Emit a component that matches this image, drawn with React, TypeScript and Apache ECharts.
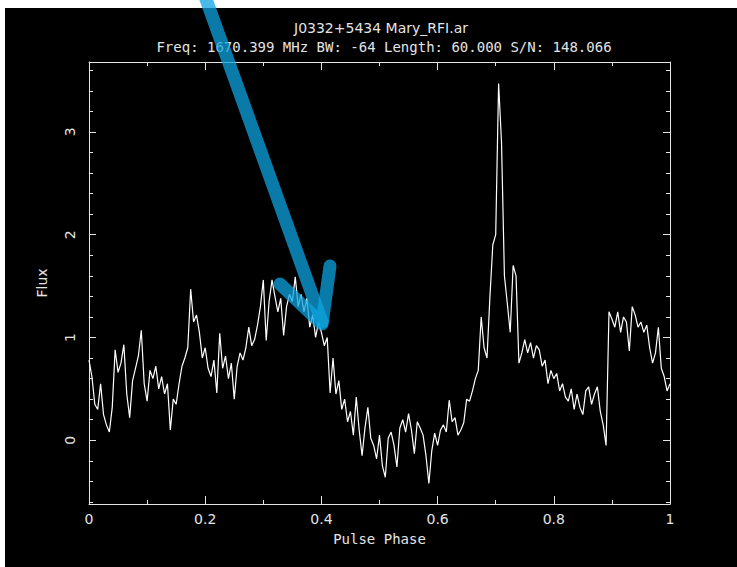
import React, { useEffect, useRef } from "react";
import * as echarts from "echarts";

const TITLE_LINE_1 = "J0332+5434 Mary_RFI.ar";
const TITLE_LINE_2 = "Freq: 1670.399 MHz BW: -64 Length: 60.000 S/N: 148.066";
const X_NAME = "Pulse Phase";
const Y_NAME = "Flux";

const X_MAJOR = [0, 0.2, 0.4, 0.6, 0.8, 1];
const X_MINOR = [0.1, 0.3, 0.5, 0.7, 0.9];
const Y_MAJOR = [0, 1, 2, 3];
const Y_MINOR = [-0.6, -0.4, -0.2, 0.2, 0.4, 0.6, 0.8, 1.2, 1.4, 1.6, 1.8, 2.2, 2.4, 2.6, 2.8, 3.2, 3.4, 3.6];
const Y_MIN = -0.62;
const Y_MAX = 3.68;

// Flux per phase bin (201 bins from phase 0 to 1)
const FLUX = [
  0.78, 0.62, 0.35, 0.30, 0.55, 0.25, 0.15, 0.08, 0.32, 0.88,
  0.66, 0.75, 0.93, 0.45, 0.22, 0.58, 0.70, 0.82, 1.07, 0.55,
  0.38, 0.68, 0.60, 0.72, 0.50, 0.62, 0.45, 0.55, 0.10, 0.40,
  0.35, 0.55, 0.72, 0.80, 0.90, 1.47, 1.15, 1.22, 1.05, 0.80,
  0.90, 0.70, 0.62, 0.78, 0.46, 1.04, 0.70, 0.82, 0.60, 0.75,
  0.40, 0.72, 0.85, 0.78, 0.90, 1.10, 0.92, 0.98, 1.12, 1.30,
  1.56, 0.97, 1.35, 1.56, 1.40, 1.25, 1.38, 1.02, 1.30, 1.42,
  1.35, 1.59, 1.30, 1.42, 1.25, 1.38, 1.10, 1.22, 1.00, 1.15,
  1.05, 0.92, 1.00, 0.46, 0.80, 0.45, 0.58, 0.30, 0.40, 0.18,
  0.28, 0.05, 0.42, 0.10, -0.15, 0.12, 0.32, 0.02, -0.05, -0.18,
  0.05, -0.25, -0.36, 0.02, 0.08, -0.05, -0.26, 0.12, 0.20, 0.08,
  0.26, 0.10, -0.13, 0.18, 0.12, 0.05, -0.15, -0.42, -0.10, 0.07,
  -0.05, 0.10, 0.15, 0.08, 0.39, 0.18, 0.22, 0.05, 0.10, 0.17,
  0.40, 0.38, 0.48, 0.60, 0.68, 1.20, 0.90, 0.80, 1.39, 1.90,
  2.00, 3.47, 2.90, 1.60, 1.33, 1.05, 1.70, 1.60, 0.75, 0.85,
  0.98, 0.85, 0.95, 0.80, 0.92, 0.88, 0.72, 0.78, 0.55, 0.68,
  0.60, 0.65, 0.48, 0.55, 0.42, 0.38, 0.50, 0.30, 0.45, 0.32,
  0.25, 0.48, 0.52, 0.35, 0.45, 0.52, 0.28, 0.15, -0.05, 1.25,
  1.18, 1.10, 1.25, 1.05, 1.20, 1.15, 0.87, 1.30, 1.22, 1.10,
  1.15, 1.05, 1.12, 0.90, 0.75, 0.85, 1.10, 0.70, 0.62, 0.48,
  0.55,
];

const FG = "#e4e4e4";
const SANS = "DejaVu Sans";
const MONO = "DejaVu Sans Mono";

export default function App() {
  const ref = useRef<HTMLDivElement>(null);

  useEffect(() => {
    if (!ref.current) return;
    const chart = echarts.init(ref.current, null, { renderer: "svg" });
    const data = FLUX.map((v, i) => [i / (FLUX.length - 1), v]);
    const gridPos = { left: 89, top: 62, right: 67, bottom: 63 };
    const lineStyle = { color: FG, width: 1 };
    const sans = { color: FG, fontSize: 14, fontWeight: "normal", fontFamily: SANS };
    const mono = { color: FG, fontSize: 14, fontWeight: "normal", fontFamily: MONO };

    chart.setOption({
      animation: false,
      backgroundColor: "#000",
      textStyle: { fontFamily: SANS },
      title: [
        { text: TITLE_LINE_1, left: 381, top: 21, padding: 0, textAlign: "center", textStyle: sans },
        { text: TITLE_LINE_2, left: 384, top: 40, padding: 0, textAlign: "center", textStyle: mono },
      ],
      grid: [
        { ...gridPos, containLabel: false },
        { ...gridPos, containLabel: false },
      ],
      xAxis: [
        {
          type: "value",
          gridIndex: 0,
          position: "bottom",
          min: 0,
          max: 1,
          interval: 0.2,
          name: X_NAME,
          nameLocation: "middle",
          nameGap: 28,
          nameTextStyle: mono,
          axisLine: { show: true, onZero: false, lineStyle },
          axisTick: { show: true, inside: true, length: 8, lineStyle, customValues: X_MAJOR },
          axisLabel: { show: true, ...sans, margin: 8, customValues: X_MAJOR },
          splitLine: { show: false },
        },
        {
          type: "value",
          gridIndex: 0,
          position: "top",
          min: 0,
          max: 1,
          interval: 0.2,
          axisLine: { show: true, onZero: false, lineStyle },
          axisTick: { show: true, inside: true, length: 8, lineStyle, customValues: X_MAJOR },
          axisLabel: { show: false },
          splitLine: { show: false },
        },
        {
          type: "value",
          gridIndex: 1,
          position: "bottom",
          min: 0,
          max: 1,
          axisLine: { show: false, onZero: false },
          axisTick: { show: true, inside: true, length: 4, lineStyle, customValues: X_MINOR },
          axisLabel: { show: false },
          splitLine: { show: false },
        },
        {
          type: "value",
          gridIndex: 1,
          position: "top",
          min: 0,
          max: 1,
          axisLine: { show: false, onZero: false },
          axisTick: { show: true, inside: true, length: 4, lineStyle, customValues: X_MINOR },
          axisLabel: { show: false },
          splitLine: { show: false },
        },
      ],
      yAxis: [
        {
          type: "value",
          gridIndex: 0,
          position: "left",
          min: Y_MIN,
          max: Y_MAX,
          name: Y_NAME,
          nameLocation: "middle",
          nameGap: 40,
          nameTextStyle: sans,
          axisLine: { show: true, onZero: false, lineStyle },
          axisTick: { show: true, inside: true, length: 7, lineStyle, customValues: Y_MAJOR },
          axisLabel: { show: true, ...sans, margin: 12, rotate: 90, customValues: Y_MAJOR },
          splitLine: { show: false },
        },
        {
          type: "value",
          gridIndex: 0,
          position: "right",
          min: Y_MIN,
          max: Y_MAX,
          axisLine: { show: true, onZero: false, lineStyle },
          axisTick: { show: true, inside: true, length: 7, lineStyle, customValues: Y_MAJOR },
          axisLabel: { show: false },
          splitLine: { show: false },
        },
        {
          type: "value",
          gridIndex: 1,
          position: "left",
          min: Y_MIN,
          max: Y_MAX,
          axisLine: { show: false, onZero: false },
          axisTick: { show: true, inside: true, length: 4, lineStyle, customValues: Y_MINOR },
          axisLabel: { show: false },
          splitLine: { show: false },
        },
        {
          type: "value",
          gridIndex: 1,
          position: "right",
          min: Y_MIN,
          max: Y_MAX,
          axisLine: { show: false, onZero: false },
          axisTick: { show: true, inside: true, length: 4, lineStyle, customValues: Y_MINOR },
          axisLabel: { show: false },
          splitLine: { show: false },
        },
      ],
      series: [
        {
          type: "line",
          xAxisIndex: 0,
          yAxisIndex: 0,
          data,
          showSymbol: false,
          symbol: "none",
          lineStyle: { color: "#ffffff", width: 1.2 },
          z: 3,
        },
      ],
      graphic: [
        { type: "rect", shape: { x: 0, y: 0, width: 737, height: 8 }, style: { fill: "#fff" }, z: 1 },
        { type: "rect", shape: { x: 0, y: 0, width: 5, height: 567 }, style: { fill: "#fff" }, z: 1 },
        {
          type: "line",
          shape: { x1: 202, y1: -12, x2: 322, y2: 322 },
          style: { stroke: "rgba(14,164,224,0.75)", lineWidth: 13, lineCap: "round" },
          z: 100,
        },
        {
          type: "polyline",
          shape: { points: [[280, 284], [322, 324], [330, 266]] },
          style: { stroke: "rgba(14,164,224,0.75)", lineWidth: 13, lineCap: "round", lineJoin: "round", fill: "none" },
          z: 100,
        },
      ],
    });
    return () => chart.dispose();
  }, []);

  return (
    <div
      ref={ref}
      style={{ position: "fixed", left: 0, top: 0, width: 737, height: 567 }}
    />
  );
}
